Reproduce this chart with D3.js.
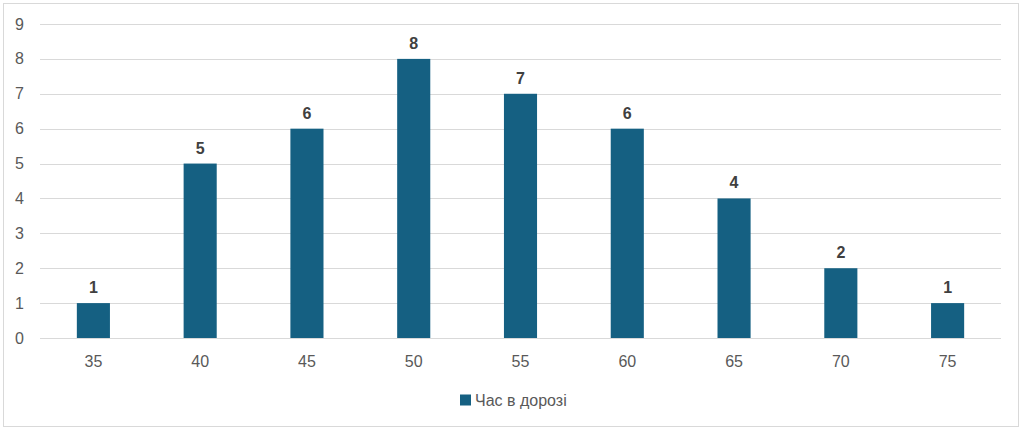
<!DOCTYPE html>
<html lang="uk">
<head>
    <meta charset="UTF-8">
    <title>Час в дорозі</title>
    <script src="https://d3js.org/d3.v7.min.js"></script>
    <style>
        body { margin: 0; padding: 0; background: #fff; font-family: 'Liberation Sans', Arial, sans-serif; }
        .grid line { stroke: #d9d9d9; stroke-width: 1px; }
        .tick-label { fill: #595959; font-size: 16px; }
        .bar-label { fill: #404040; font-size: 16px; font-weight: bold; }
    </style>
</head>
<body>
<div id="chart"></div>
<script>
    // дані
    const categories = ["35", "40", "45", "50", "55", "60", "65", "70", "75"];
    const values = [1, 5, 6, 8, 7, 6, 4, 2, 1];
    const yTicks = [0, 1, 2, 3, 4, 5, 6, 7, 8, 9];
    const seriesName = "Час в дорозі";

    const width = 1024, height = 429;
    const margin = { top: 24, right: 23, bottom: 91, left: 40 };
    const barColor = "#156082";

    const svg = d3.select("#chart").append("svg")
        .attr("width", width)
        .attr("height", height);

    // рамка
    svg.append("rect")
        .attr("x", 3.5).attr("y", 3.5)
        .attr("width", 1015).attr("height", 423)
        .attr("fill", "#fff")
        .attr("stroke", "#d9d9d9");

    const x = d3.scaleBand()
        .domain(categories)
        .range([margin.left, width - margin.right])
        .paddingInner(0.69)
        .paddingOuter(0.345);

    const y = d3.scaleLinear()
        .domain([0, 9])
        .range([height - margin.bottom, margin.top]);

    // сітка
    svg.append("g").attr("class", "grid")
        .selectAll("line")
        .data(yTicks)
        .join("line")
        .attr("x1", margin.left)
        .attr("x2", width - margin.right)
        .attr("y1", d => Math.round(y(d)) + 0.5)
        .attr("y2", d => Math.round(y(d)) + 0.5);

    // підписи осі Y
    svg.append("g")
        .selectAll("text")
        .data(yTicks)
        .join("text")
        .attr("class", "tick-label")
        .attr("x", 24)
        .attr("y", d => y(d))
        .attr("dy", "0.35em")
        .attr("text-anchor", "end")
        .text(d => d);

    // стовпці
    svg.append("g")
        .selectAll("rect")
        .data(values)
        .join("rect")
        .attr("x", (d, i) => x(categories[i]))
        .attr("y", d => y(d))
        .attr("width", x.bandwidth())
        .attr("height", d => y(0) - y(d))
        .attr("fill", barColor);

    // підписи даних
    svg.append("g")
        .selectAll("text")
        .data(values)
        .join("text")
        .attr("class", "bar-label")
        .attr("x", (d, i) => x(categories[i]) + x.bandwidth() / 2)
        .attr("y", d => y(d) - 10)
        .attr("text-anchor", "middle")
        .text(d => d);

    // підписи осі X
    svg.append("g")
        .selectAll("text")
        .data(categories)
        .join("text")
        .attr("class", "tick-label")
        .attr("x", d => x(d) + x.bandwidth() / 2)
        .attr("y", y(0) + 23)
        .attr("dy", "0.35em")
        .attr("text-anchor", "middle")
        .text(d => d);

    // легенда
    const legend = svg.append("g").attr("transform", "translate(460, 400)");
    legend.append("rect")
        .attr("x", 0).attr("y", -5.5)
        .attr("width", 11).attr("height", 11)
        .attr("fill", barColor);
    legend.append("text")
        .attr("class", "tick-label")
        .attr("x", 15)
        .attr("dy", "0.35em")
        .text(seriesName);
</script>
</body>
</html>
